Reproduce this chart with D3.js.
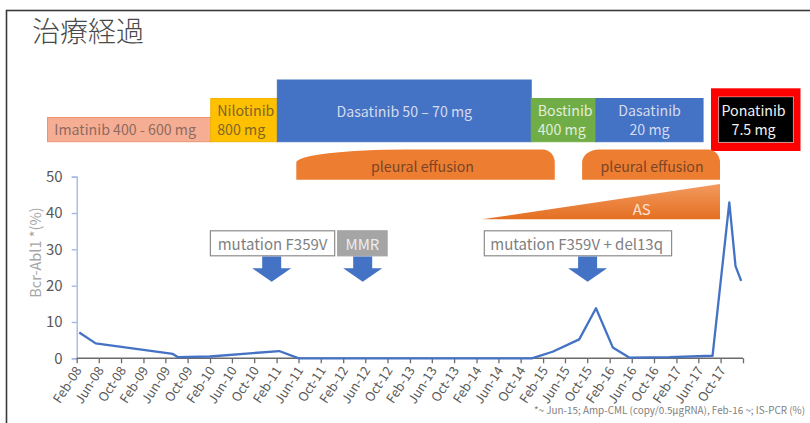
<!DOCTYPE html>
<html>
<head>
<meta charset="utf-8">
<script src="https://cdn.jsdelivr.net/npm/d3@7"></script>
<style>
  html, body { margin: 0; padding: 0; background: #fff; }
  svg { display: block; font-family: "Noto Sans CJK JP", "Noto Sans", sans-serif; }
</style>
</head>
<body>
<svg id="chart" width="810" height="423"></svg>
<script>
// ---- data ----
const titleText = "治療経過";

// Bcr-Abl1 measurements (date, %)
const bcrDates = [
  "2008-02-15", "2008-05-15", "2009-07-12", "2009-08-10", "2010-02-01",
  "2011-02-15", "2011-06-03", "2012-06-01", "2013-06-01", "2014-12-01",
  "2015-03-25", "2015-08-18", "2015-11-18", "2016-02-18", "2016-05-18",
  "2016-12-25", "2017-08-18", "2017-11-18", "2017-12-22", "2018-01-22"
];
const bcrValues = [
  7.1, 4.1, 1.2, 0.3, 0.5,
  2.0, 0.0, 0.0, 0.0, 0.0,
  1.8, 5.2, 13.8, 3.0, 0.2,
  0.3, 0.7, 42.9, 25.4, 21.3
];

// x-axis tick labels (every 4 months)
const tickLabels = [
  "Feb-08", "Jun-08", "Oct-08", "Feb-09", "Jun-09", "Oct-09",
  "Feb-10", "Jun-10", "Oct-10", "Feb-11", "Jun-11", "Oct-11",
  "Feb-12", "Jun-12", "Oct-12", "Feb-13", "Jun-13", "Oct-13",
  "Feb-14", "Jun-14", "Oct-14", "Feb-15", "Jun-15", "Oct-15",
  "Feb-16", "Jun-16", "Oct-16", "Feb-17", "Jun-17", "Oct-17"
];
const yTicks = [0, 10, 20, 30, 40, 50];
const yTitle = "Bcr-Abl1 *(%)";
const footnote = "*~ Jun-15; Amp-CML (copy/0.5μgRNA), Feb-16 ~; IS-PCR (%)";

// treatment regimens
const regimenLabels = [
  ["Imatinib 400 - 600 mg"],
  ["Nilotinib", "800 mg"],
  ["Dasatinib 50 – 70 mg"],
  ["Bostinib", "400 mg"],
  ["Dasatinib", "20 mg"],
  ["Ponatinib", "7.5 mg"]
];
const regimenStart = ["2007-08-25", "2010-02-05", "2011-02-05", "2014-11-28", "2015-11-18", "2017-09-24"];
const regimenEnd   = ["2010-02-05", "2011-02-05", "2014-11-28", "2015-11-18", "2017-06-27", "2018-11-01"];

// adverse events
const effusionLabel = "pleural effusion";
const effusionStart = ["2011-05-20", "2015-09-03"];
const effusionEnd   = ["2015-04-06", "2017-09-28"];
const asLabel = "AS";
const asStart = "2014-03-03";
const asEnd   = "2017-09-28";

// findings marked with arrows
const findingLabels = ["mutation F359V", "MMR", "mutation F359V + del13q"];
const findingDates  = ["2011-01-05", "2012-05-18", "2015-10-03"];

// ---- styles / layout ----
const regimenStyle = [
  { fill: "#F5AE94", stroke: "#EE9473", text: "#8d6a60", top: 117.5, align: "middle" },
  { fill: "#FFC000", stroke: "#F2B400", text: "#7e6628", top: 98.5, align: "start" },
  { fill: "#4472C4", stroke: "#4472C4", text: "#d5dcf0", top: 80, align: "middle" },
  { fill: "#70AD47", stroke: "#70AD47", text: "#e3eedb", top: 98.5, align: "start" },
  { fill: "#4472C4", stroke: "#4472C4", text: "#d5dcf0", top: 98.5, align: "middle" },
  { fill: "#000000", stroke: "#000000", text: "#f2f2f2", top: 97.7, align: "middle" }
];
const regimenBottom = 141.7;
const effusionShape = [{ rl: 110, rr: 12 }, { rl: 17, rr: 12 }];
const findingBox = [
  { dx: -61.3, w: 124.3, fill: "#ffffff", stroke: "#8c8c8c", text: "#7f7f7f", align: "middle" },
  { dx: -25, w: 49.4, fill: "#A5A5A5", stroke: "#A5A5A5", text: "#ececec", align: "middle" },
  { dx: -103.3, w: 187.3, fill: "#ffffff", stroke: "#8c8c8c", text: "#7f7f7f", align: "start" }
];

const parseDay = d3.timeParse("%Y-%m-%d");
const parseTick = d3.timeParse("%b-%y");

const svg = d3.select("#chart");

// slide frame
svg.append("rect")
  .attr("x", 6.5).attr("y", 10.5).attr("width", 900).attr("height", 500)
  .attr("fill", "none").attr("stroke", "#3a3a3a").attr("stroke-width", 1.6);

// title
svg.append("text")
  .attr("x", 32).attr("y", 42)
  .attr("font-size", 28).attr("font-weight", 300)
  .attr("fill", "#4a4a4a")
  .text(titleText);

// ---- scales ----
const x = d3.scaleTime()
  .domain([new Date(2008, 1, 1), new Date(2018, 1, 1)])
  .range([76.7, 743]);
const y = d3.scaleLinear().domain([0, 50]).range([358.3, 176.7]);

// ---- regimen bars ----
const regG = svg.append("g");
regimenLabels.forEach((lines, i) => {
  const st = regimenStyle[i];
  const x0 = x(parseDay(regimenStart[i]));
  const x1 = x(parseDay(regimenEnd[i]));
  if (i === 5) {
    // highlighted current regimen
    regG.append("rect")
      .attr("x", x0 - 8.3).attr("y", st.top - 9.4)
      .attr("width", x1 - x0 + 16).attr("height", regimenBottom - st.top + 18.7)
      .attr("fill", "#FF0000");
    regG.append("rect")
      .attr("x", x0 - 1).attr("y", st.top - 1)
      .attr("width", x1 - x0 + 2).attr("height", regimenBottom - st.top + 2)
      .attr("fill", "#ffffff");
  }
  regG.append("rect")
    .attr("x", x0).attr("y", st.top)
    .attr("width", x1 - x0).attr("height", regimenBottom - st.top)
    .attr("fill", st.fill)
    .attr("stroke", st.stroke).attr("stroke-width", 1);
  const tx = st.align === "start" ? x0 + 6.5 : (x0 + x1) / 2 - (i === 0 ? 4 : i === 5 ? 2.5 : 0);
  const lineY = lines.length === 1 ? (i === 0 ? [129.3] : [110.5]) : [110, 128.5];
  lines.forEach((t, j) => {
    regG.append("text")
      .attr("x", tx).attr("y", lineY[j])
      .attr("dominant-baseline", "central")
      .attr("text-anchor", st.align)
      .attr("font-size", 14.2)
      .attr("fill", st.text)
      .text(t);
  });
});

// ---- pleural effusion ----
function domePath(x0, x1, yTop, yBot, rl, rr, ry) {
  return `M${x0},${yBot} L${x0},${yTop + ry} A${rl},${ry} 0 0 1 ${x0 + rl},${yTop}` +
         ` L${x1 - rr},${yTop} A${rr},${ry} 0 0 1 ${x1},${yTop + ry} L${x1},${yBot} Z`;
}
effusionStart.forEach((s, i) => {
  const x0 = x(parseDay(s));
  const x1 = x(parseDay(effusionEnd[i]));
  const sh = effusionShape[i];
  svg.append("path")
    .attr("d", domePath(x0, x1, 149.5, 179.8, sh.rl, sh.rr, 13))
    .attr("fill", "#ED7D31");
  svg.append("text")
    .attr("x", i === 0 ? (x0 + x1) / 2 - 3 : (x0 + x1) / 2 + 1)
    .attr("y", 166)
    .attr("dominant-baseline", "central")
    .attr("text-anchor", "middle")
    .attr("font-size", 14.2)
    .attr("fill", "#7a4526")
    .text(effusionLabel);
});

// ---- AS wedge ----
const defs = svg.append("defs");
const grad = defs.append("linearGradient").attr("id", "asGrad")
  .attr("x1", "0").attr("y1", "0").attr("x2", "0").attr("y2", "1");
grad.append("stop").attr("offset", "0").attr("stop-color", "#F39A5E");
grad.append("stop").attr("offset", "1").attr("stop-color", "#E46F22");
{
  const x0 = x(parseDay(asStart));
  const x1 = x(parseDay(asEnd));
  svg.append("path")
    .attr("d", `M${x0},219.3 L${x1},184 L${x1},219.3 Z`)
    .attr("fill", "url(#asGrad)");
  svg.append("text")
    .attr("x", 641.7).attr("y", 208.5)
    .attr("dominant-baseline", "central")
    .attr("text-anchor", "middle")
    .attr("font-size", 15)
    .attr("fill", "#fbe3d2")
    .text(asLabel);
}

// ---- findings: boxes and arrows ----
findingLabels.forEach((t, i) => {
  const cx = x(parseDay(findingDates[i]));
  const b = findingBox[i];
  svg.append("rect")
    .attr("x", cx + b.dx).attr("y", 230.8)
    .attr("width", b.w).attr("height", 25)
    .attr("fill", b.fill).attr("stroke", b.stroke).attr("stroke-width", 1.2);
  svg.append("text")
    .attr("x", b.align === "start" ? cx + b.dx + 6 : cx + b.dx + b.w / 2)
    .attr("y", 243)
    .attr("dominant-baseline", "central")
    .attr("text-anchor", b.align)
    .attr("font-size", 15)
    .attr("fill", b.text)
    .text(t);
  svg.append("path")
    .attr("d", `M${cx - 9.5},256.5 L${cx + 9.5},256.5 L${cx + 9.5},268.3 L${cx + 19.5},268.3` +
               ` L${cx},281.7 L${cx - 19.5},268.3 L${cx - 9.5},268.3 Z`)
    .attr("fill", "#4472C4");
});

// ---- axes ----
const yAxis = svg.append("g")
  .attr("transform", "translate(76.7,0)")
  .call(d3.axisLeft(y).tickValues(yTicks).tickSize(5).tickPadding(9));
yAxis.select(".domain").attr("stroke", "#9DB5E2").attr("stroke-width", 1.3);
yAxis.selectAll(".tick line").attr("stroke", "#9DB5E2").attr("stroke-width", 1.3);
yAxis.selectAll(".tick text")
  .attr("font-size", 15).attr("fill", "#595959")
  .attr("font-family", "'Noto Sans CJK JP', sans-serif");

svg.append("text")
  .attr("transform", "translate(41,252.5) rotate(-90)")
  .attr("text-anchor", "middle")
  .attr("font-size", 14.5)
  .attr("fill", "#a6a6a6")
  .text(yTitle);

const tickDates = tickLabels.map(parseTick).concat([x.domain()[1]]);
const xAxis = svg.append("g")
  .attr("transform", "translate(0,358.3)")
  .call(d3.axisBottom(x).tickValues(tickDates).tickSize(5)
    .tickFormat((d, i) => i < tickLabels.length ? tickLabels[i] : ""));
xAxis.select(".domain").attr("stroke", "#6b6b6b").attr("stroke-width", 1.5)
  .attr("d", `M${x.range()[0]},0H${x.range()[1]}`);
xAxis.selectAll(".tick line").attr("stroke", "#6b6b6b").attr("stroke-width", 1.3);
xAxis.selectAll(".tick text")
  .attr("font-size", 12.8).attr("fill", "#595959")
  .attr("font-family", "'Noto Sans CJK JP', sans-serif")
  .attr("text-anchor", "end")
  .attr("dy", 0)
  .attr("y", 0)
  .attr("transform", "translate(5,12) rotate(-57)");

// ---- Bcr-Abl1 line ----
const pts = bcrDates.map((d, i) => [parseDay(d), bcrValues[i]]);
svg.append("path")
  .datum(pts)
  .attr("fill", "none")
  .attr("stroke", "#4472C4")
  .attr("stroke-width", 2.3)
  .attr("stroke-linejoin", "round")
  .attr("d", d3.line().x(p => x(p[0])).y(p => y(p[1])));

// footnote
svg.append("text")
  .attr("x", 805).attr("y", 414)
  .attr("text-anchor", "end")
  .attr("font-size", 9.9)
  .attr("fill", "#808080")
  .text(footnote);
</script>
</body>
</html>
